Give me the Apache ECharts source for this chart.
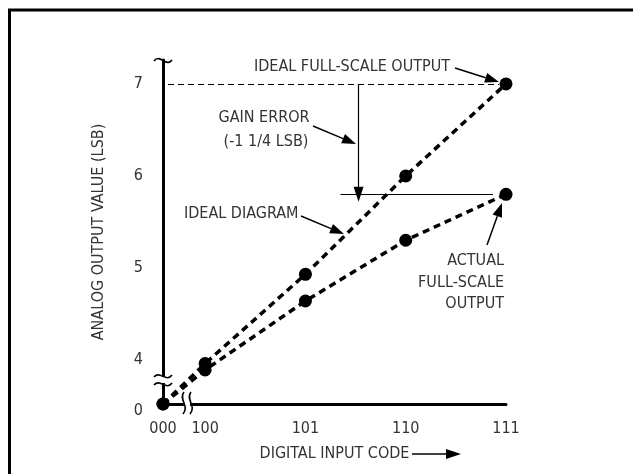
<!DOCTYPE html>
<html>
<head>
<meta charset="utf-8">
<script src="https://cdn.jsdelivr.net/npm/echarts@6/dist/echarts.min.js"></script>
<style>
  html, body { margin: 0; padding: 0; background: #fff; }
  #chart { width: 633px; height: 474px; }
</style>
</head>
<body>
<div id="chart"></div>
<script>
// data (LSB)
const codes = ['000', '100', '101', '110', '111'];
const codeValues = [0, 4, 5, 6, 7];
const idealOutput = [0, 3.96, 4.93, 6, 7];
const actualOutput = [0, 3.89, 4.64, 5.3, 5.8];
const yTickValues = [0, 4, 5, 6, 7];
const idealFullScale = 7;
const actualFullScale = 5.8;

// both axes are broken between 0 and 4: 0 is drawn just below 4
const X_BREAK = 3.58;
const Y_BREAK = 3.52;
const xPos = v => (v === 0 ? X_BREAK : v);
const yPos = v => (v === 0 ? Y_BREAK : v);

const FONT = "'Liberation Sans Narrow', 'DejaVu Sans Condensed', 'Roboto', sans-serif";
const TXT = '#333';

const chart = echarts.init(document.getElementById('chart'));

function pairs(ys) {
  return codeValues.map((c, i) => [xPos(c), yPos(ys[i])]);
}

// arrow from (x1,y1) to tip (x2,y2), filled head
function arrow(x1, y1, x2, y2, w, len, half) {
  const a = Math.atan2(y2 - y1, x2 - x1);
  const bx = x2 - len * Math.cos(a), by = y2 - len * Math.sin(a);
  const px = -Math.sin(a) * half, py = Math.cos(a) * half;
  return [
    { type: 'line', shape: { x1: x1, y1: y1, x2: bx, y2: by }, style: { stroke: '#000', lineWidth: w }, z: 10 },
    { type: 'polygon', shape: { points: [[x2, y2], [bx + px, by + py], [bx - px, by - py]] }, style: { fill: '#000' }, z: 10 }
  ];
}

function text(str, x, y, align) {
  return {
    type: 'text', x: x, y: y, z: 10,
    style: { text: str, font: '16px ' + FONT, fill: TXT, align: align || 'left', verticalAlign: 'middle' }
  };
}

function wave(x1, y1, x2, y2, c1, c2) {
  return {
    type: 'bezierCurve', z: 12,
    shape: { x1: x1, y1: y1, x2: x2, y2: y2, cpx1: c1[0], cpy1: c1[1], cpx2: c2[0], cpy2: c2[1] },
    style: { stroke: '#000', lineWidth: 1.6, fill: null }
  };
}

const graphics = [
  // frame
  { type: 'rect', shape: { x: 9.5, y: 10, width: 700, height: 600 }, style: { stroke: '#000', lineWidth: 3, fill: null }, z: 1 },
  // top tilde of y axis
  wave(154, 61, 172, 60, [160, 53], [166, 68]),
  // y axis break
  { type: 'rect', shape: { x: 158, y: 376, width: 10, height: 7 }, style: { fill: '#fff' }, z: 11 },
  wave(154, 377, 172, 375, [160, 370], [166, 383]),
  wave(154, 385, 172, 383, [160, 378], [166, 391]),
  // x axis break
  { type: 'rect', shape: { x: 184, y: 399, width: 6, height: 10 }, style: { fill: '#fff' }, z: 11 },
  wave(184, 392, 183, 414, [178, 399], [190, 406]),
  wave(191, 392, 190, 414, [185, 399], [197, 406]),
  // annotations
  text('IDEAL FULL-SCALE OUTPUT', 254, 67),
  text('GAIN ERROR', 264, 118, 'center'),
  text('(-1 1/4 LSB)', 266, 142, 'center'),
  text('IDEAL DIAGRAM', 184, 214),
  text('ACTUAL', 504, 261, 'right'),
  text('FULL-SCALE', 504, 283, 'right'),
  text('OUTPUT', 504, 304, 'right')
]
  .concat(arrow(455, 68, 499, 82, 1.5, 14, 5))
  .concat(arrow(313, 126, 356, 144, 1.5, 14, 5))
  .concat(arrow(301, 216, 344, 234, 1.5, 14, 5))
  .concat(arrow(487, 245, 502, 203, 1.5, 14, 5))
  .concat(arrow(412, 454, 461, 454, 1.5, 15, 5));

const dataStyle = {
  type: 'line',
  symbol: 'circle',
  symbolSize: 13,
  itemStyle: { color: '#000' },
  lineStyle: { color: '#000', width: 3.5, type: [7, 5] },
  z: 5
};

const gainX = 5.53;

const option = {
  animation: false,
  grid: { left: 163, right: 127, top: 60, bottom: 70 },
  xAxis: {
    type: 'value',
    min: X_BREAK,
    max: 7,
    name: 'DIGITAL INPUT CODE',
    nameLocation: 'middle',
    nameGap: 42,
    nameTextStyle: { fontFamily: FONT, fontSize: 16, color: TXT },
    axisLine: { lineStyle: { color: '#000', width: 3 } },
    axisTick: { show: false },
    splitLine: { show: false },
    axisLabel: {
      customValues: codeValues.map(xPos),
      formatter: v => codes[codeValues.map(xPos).indexOf(v)],
      margin: 17,
      fontFamily: FONT, fontSize: 16, color: TXT
    }
  },
  yAxis: {
    type: 'value',
    min: Y_BREAK,
    max: 7.26,
    name: 'ANALOG OUTPUT VALUE (LSB)',
    nameLocation: 'middle',
    nameGap: 56,
    nameTextStyle: { fontFamily: FONT, fontSize: 16, color: TXT },
    axisLine: { lineStyle: { color: '#000', width: 3 } },
    axisTick: { show: false },
    splitLine: { show: false },
    axisLabel: {
      customValues: yTickValues.map(yPos),
      formatter: v => {
        const t = yTickValues[yTickValues.map(yPos).indexOf(v)];
        return t === 0 ? '{z|0}' : String(t);
      },
      rich: { z: { padding: [14, 0, 0, 0], fontFamily: FONT, fontSize: 16, color: TXT } },
      margin: 20,
      fontFamily: FONT, fontSize: 16, color: TXT
    }
  },
  graphic: graphics,
  series: [
    Object.assign({}, dataStyle, {
      name: 'Ideal',
      data: pairs(idealOutput),
      markLine: {
        silent: true,
        symbol: 'none',
        label: { show: false },
        data: [
          [{ coord: [3.63, idealFullScale], lineStyle: { type: [6, 4], width: 1, color: '#000' } },
           { coord: [6.93, idealFullScale] }],
          [{ coord: [5.35, actualFullScale], lineStyle: { type: 'solid', width: 1.2, color: '#000' } },
           { coord: [6.87, actualFullScale] }],
          [{ coord: [gainX, idealFullScale], symbol: 'none', lineStyle: { type: 'solid', width: 1.2, color: '#000' } },
           { coord: [gainX, actualFullScale], symbol: 'triangle', symbolSize: [10, 15] }]
        ]
      }
    }),
    Object.assign({}, dataStyle, {
      name: 'Actual',
      data: pairs(actualOutput)
    })
  ]
};

chart.setOption(option);
</script>
</body>
</html>
